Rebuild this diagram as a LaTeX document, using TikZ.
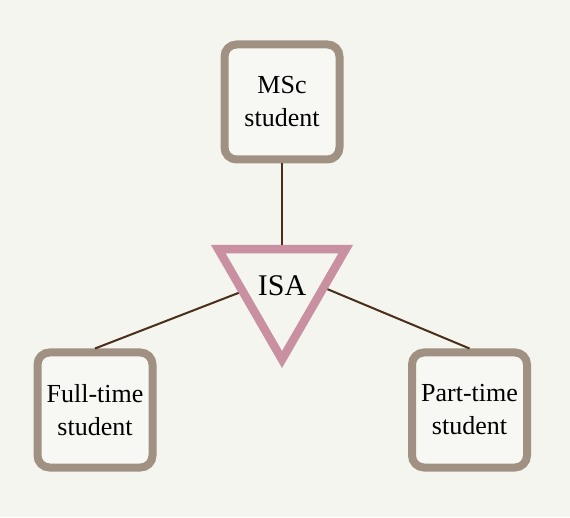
\documentclass[tikz,border=0pt]{standalone}
\usepackage{fontspec}
\setmainfont{Liberation Serif}
\usetikzlibrary{shapes.geometric}
\definecolor{paper}{HTML}{F5F5F0}
\definecolor{boxfill}{HTML}{F7F7F3}
\definecolor{boxline}{HTML}{A09182}
\definecolor{isaline}{HTML}{C890A0}
\definecolor{linkline}{HTML}{4B2E1A}
\begin{document}
\begin{tikzpicture}[x=1pt,y=1pt]
\fill[paper] (0,0) rectangle (570,517);
\useasboundingbox (0,0) rectangle (570,517);

\begin{scope}[every node/.style={draw=boxline,line width=8pt,rounded corners=12pt,fill=boxfill,align=center,font=\fontsize{26}{33}\selectfont,minimum width=115pt,minimum height=115pt,inner sep=0pt}]
\node (MSc) at (282,415) {MSc\\student};
\node (Full) at (95,107) {Full-time\\student};
\node (Part) at (469.5,107) {Part-time\\student};
\end{scope}

\node[draw=isaline,line width=8.5pt,regular polygon,regular polygon sides=3,shape border rotate=180,minimum size=147pt,inner sep=0pt,fill=paper,font=\fontsize{30}{36}\selectfont] (ISA) at (282,231) {ISA};

\begin{scope}[every edge/.style={draw=linkline,line width=2pt}]
    \path (MSc) edge (ISA);
    \path (Full.north) edge (ISA.189);
    \path (Part.north) edge (ISA.356);
\end{scope}
\end{tikzpicture}
\end{document}
